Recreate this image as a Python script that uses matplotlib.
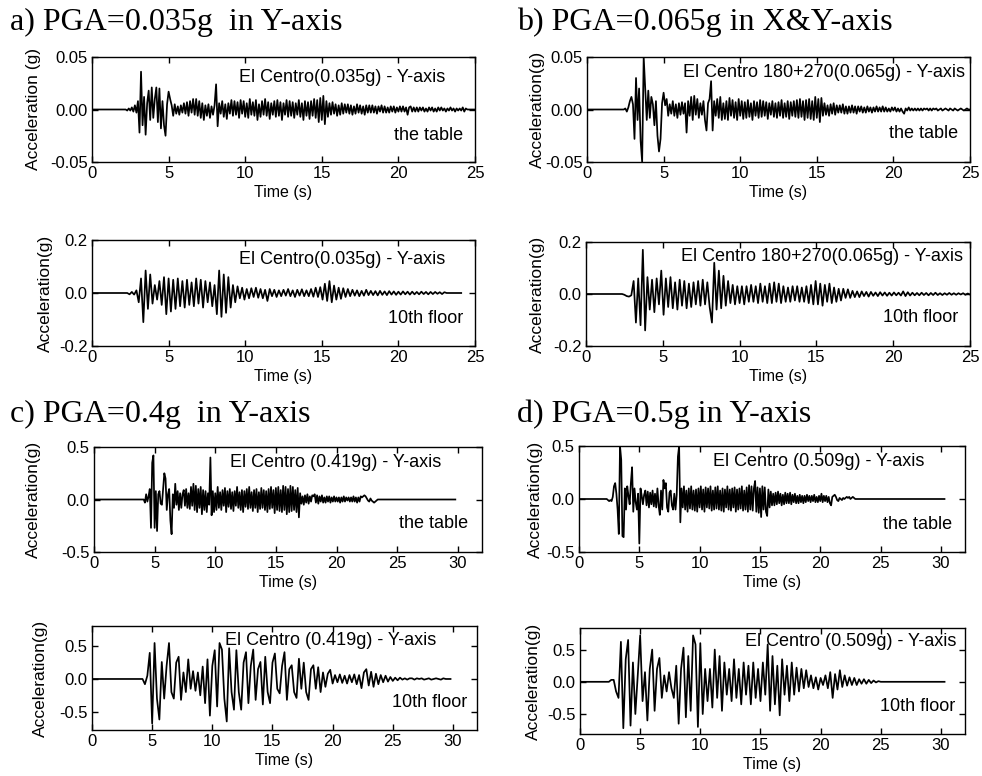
import numpy as np
import matplotlib
matplotlib.use("Agg")
import matplotlib.pyplot as plt

plt.rcParams["font.family"] = ["Liberation Sans", "DejaVu Sans"]

# ---------------- data ----------------
# a) table, units 0.001 g, sampled every 0.1 s from 2.2 s
a_tab_t0, a_tab_dt, a_tab_end = 2.2, 0.1, 25.0
a_tab_vals = [
    0, -1, 1, -1, 2, -2, 4, -3, 8, -22,
    36, -15, 12, -24, 6, 18, -10, 21, -8, 10,
    21, -12, 20, -18, 8, -15, -25, 5, 17, 10,
    4, -6, 5, -4, 3, -5, 4, -3, 6, -4,
    7, -6, 8, -3, 10, -5, 10, -6, 8, -8,
    6, -10, 4, -6, 5, -8, 3, -5, 4, 24,
    -16, 6, -4, 8, -7, 5, -9, 6, -4, 9,
    -6, 8, -5, 7, -8, 9, -4, 8, -7, 6,
    -8, 10, -5, 7, -6, 9, -10, 5, -7, 8,
    -5, 10, -6, 7, -9, 6, -5, 8, -7, 9,
    -6, 7, -10, 6, -5, 9, -7, 8, -6, 7,
    -8, 6, -5, 9, -7, 6, -10, 8, -6, 7,
    -9, 8, -6, 10, -8, 9, -12, 11, -10, 13,
    -14, 8, -7, 6, -5, 7, -4, 5, -6, 4,
    -5, 6, -4, 5, -3, 5, -4, 4, -5, 3,
    -4, 5, -3, 4, -4, 3, -5, 4, -3, 4,
    -3, 4, -3, 3, -4, 3, -2, 4, -3, 3,
    -3, 2, -3, 3, -2, 3, -3, 2, -2, 3,
    -2, 3, -2, 2, -5, 2, 3, -2, 2, -2,
    2, -2, 2, -1, 2, -2, 1, -2, 2, -1,
    2, -2, 1, -2, 2, -1, 2, -1, 1, -2,
    1, -1, 2, -1, 1, -2, 1, -1, 1, -1,
    2, -2, 1, 0,
]
# a) 10th floor, units 0.001 g, every 0.15 s from 2.3 s
a_flr_t0, a_flr_dt, a_flr_end = 2.3, 0.15, 24.1
a_flr_vals = [
    0, -5, 4, -6, 10, -35, 55, -110, 85, -60,
    70, -40, 30, -25, 45, -45, 60, -80, 55, -70,
    50, -60, 55, -50, 45, -55, 50, -45, 40, -50,
    55, -40, 50, -55, 45, -35, 40, -50, 30, -80,
    85, -90, 70, -75, 60, -55, 30, -35, 25, -20,
    20, -25, 15, -20, 18, -15, 20, -18, 15, -20,
    12, -30, 15, -12, 12, -15, 10, -12, 12, -10,
    15, -12, 10, -15, 12, -10, 14, -12, 10, -12,
    15, -14, 20, -15, 22, -25, 35, -30, 45, -35,
    28, -25, 20, -22, 18, -15, 15, -12, 12, -10,
    10, -12, 8, -10, 12, -8, 8, -8, 7, -9,
    8, -7, 6, -8, 7, -6, 6, -7, 5, -6,
    6, -5, 5, -6, 5, -5, 4, -5, 5, -4,
    4, -5, 4, -4, 4, -3, 3, -4, 3, 0,
]
# b) table, units 0.001 g, every 0.1 s from 2.5 s
b_tab_t0, b_tab_dt, b_tab_end = 2.5, 0.1, 25.0
b_tab_vals = [
    1, -2, 2, 8, 12, 5, -28, 30, -10, 20,
    -30, -50, 50, 20, -10, 18, -8, 12, 5, -15,
    8, -25, -40, -28, 6, 16, 4, 10, -6, 5,
    -4, 8, -6, 5, -8, 6, -5, 7, -4, 6,
    -22, 8, -6, 12, -10, 13, -5, 10, -8, 6,
    -5, 8, -10, -20, 6, 10, 27, -20, 8, -6,
    10, -8, 12, -10, 6, -9, 8, -10, 11, -6,
    9, -8, 7, -10, 10, -6, 8, -9, 7, -8,
    9, -7, 6, -10, 8, -6, 7, -8, 9, -7,
    8, -6, 7, -9, 6, -5, 8, -7, 6, -8,
    7, -6, 9, -8, 6, -7, 8, -9, 7, -6,
    8, -7, 9, -8, 10, -7, 8, -10, 9, -8,
    10, -9, 8, -10, 12, -8, 10, -12, 11, -6,
    6, -5, 4, -6, 5, -4, 6, -5, 4, -3,
    4, -3, 5, -4, 3, -4, 3, -3, 4, -3,
    3, -4, 3, -2, 3, -3, 2, -3, 3, -2,
    2, -3, 2, -2, 3, -2, 2, -2, 3, -2,
    2, -2, 1, -2, 2, -1, 2, -2, 1, -2,
    1, -2, -4, 1, -1, 2, -1, 1, -1, 1,
    -1, 1, -1, 1, -1, 1, 0, 1, -1, 1,
    -1, 1, 0, 1, -1, 0, 1, -1, 0, 1,
    0, -1, 1, 0, -1, 1, 0, -1, 0, 1,
    0, -1, 0, 1, 0, 0,
]
# b) 10th floor, units 0.001 g, every 0.15 s from 2.5 s
b_flr_t0, b_flr_dt, b_flr_end = 2.5, 0.15, 25.0
b_flr_vals = [
    -3, -8, -10, -5, 50, -110, 60, -120, 170, -140,
    65, -60, 55, -70, 60, -40, 90, -80, 60, -50,
    65, -55, 45, -60, 55, -45, 50, -55, 40, -50,
    45, -40, 50, -45, 55, -40, 45, -50, -110, 120,
    -60, 90, -55, 70, -45, 50, -35, 35, -40, 30,
    -35, 30, -40, 30, -30, 35, -30, 30, -35, 40,
    -30, 30, -35, 40, -35, 45, -30, 40, -35, 30,
    -30, 25, -30, 30, -25, 30, -30, 25, -30, 30,
    -35, 35, -40, 50, -40, 40, -45, 35, -30, 40,
    -35, 25, -30, 20, -25, 20, -15, 18, -15, 12,
    -12, 10, -12, 10, -8, 8, -10, 8, -7, 6,
    -8, 7, -6, 6, -7, 5, -6, 6, -5, 5,
    -6, 10, -8, 7, -6, 5, -5, 4, -5, 5,
    -4, 4, -5, 4, -4, 5, -4, 3, -4, 3,
    -3, 4, -3, 3, -3, 3, -2, 3, -3, 2,
    -2,
]
# c) table, units 0.01 g, every 0.1 s from 4.2 s
c_tab_t0, c_tab_dt, c_tab_end = 4.2, 0.1, 29.8
c_tab_vals = [
    -3, 5, -2, 3, 10, -27, 35, 42, -27, 8,
    -30, 5, 8, -4, -5, 10, 25, 20, -10, 5,
    10, -20, -33, 5, -8, 15, -5, 8, -10, 6,
    -8, 5, 9, -6, 10, -8, 6, -9, 12, -6,
    15, -10, 13, -12, 10, -8, 12, -14, 9, -10,
    8, -12, 6, -5, 40, -15, 8, -12, 6, -10,
    12, -8, 7, -10, 9, -6, 11, -12, 8, -7,
    10, -9, 7, -11, 8, -6, 12, -8, 7, -10,
    9, -12, 8, -7, 10, -9, 12, -8, 7, -11,
    9, -8, 10, -12, 7, -9, 11, -8, 9, -10,
    8, -12, 10, -9, 12, -8, 9, -13, 11, -10,
    12, -11, 9, -12, 13, -10, 12, -14, 10, -12,
    13, -11, 12, -10, 9, -12, 11, -17, 6, -4,
    3, -5, 4, -3, 5, -4, 3, -2, 4, 3,
    5, -3, 4, -4, 3, -2, 4, -3, 2, -3,
    3, -2, 3, -3, 2, -2, 3, -2, 2, -2,
    2, -3, 2, -2, 3, -2, 2, -1, 2, -2,
    2, -2, 3, -2, 2, -3, 2, -2, 3, 2,
    3, 4, 3, 1, -1, -2, 1, -1, -2, -3,
    -2, -1, 0, 0, 0,
]
# c) 10th floor, units 0.01 g, every 0.2 s from 4.2 s
c_flr_t0, c_flr_dt, c_flr_end = 4.2, 0.2, 29.8
c_flr_vals = [
    0, -8, 5, 40, -68, 55, -30, -62, 26, -30,
    20, 55, -20, -30, 25, 34, -32, 10, -20, 30,
    -15, 12, -18, 10, -25, 19, -37, 30, -56, 20,
    44, -42, 55, 45, -30, -65, 47, -20, -47, 44,
    -20, -47, 25, 41, -37, 20, 45, -32, 15, 26,
    -39, 34, -20, -37, 25, 39, -15, -22, 20, 41,
    -32, 15, 21, -20, -29, 31, -15, 25, -20, -32,
    15, 21, -15, 18, -20, 10, -12, 8, 14, -7,
    6, -5, 7, -6, 5, -7, 6, -5, 7, -8,
    6, -14, 10, 15, -10, 11, -12, 8, -8, 6,
    -5, 5, -4, 3, -3, 2, -2, 2, -1, 1,
    -1, 1, 1, -1, 1, 0, 1, -1, 0, 1,
    -1, 0, 1, 0, -1, 1, 0, 0, 0,
]
# d) table, units 0.01 g, every 0.1 s from 2.3 s
d_tab_t0, d_tab_dt, d_tab_end = 2.3, 0.1, 30.3
d_tab_vals = [
    0, -1, -2, -1, -2, 2, 12, 15, 5, -10,
    -33, 50, 37, -35, -36, 10, -10, 12, 3, -5,
    15, 30, -12, 10, -3, -10, 5, -42, 10, 3,
    -5, 4, 8, -6, 7, -8, 6, -5, 8, -7,
    5, -8, 10, -6, -15, 8, -10, 18, 10, 15,
    -8, -12, 6, 8, -6, -10, 5, -10, 4, 40,
    50, -22, 10, -8, 12, -10, 8, -12, 10, -9,
    12, -10, 8, -11, 9, -12, 10, -8, 12, -10,
    9, -12, 11, -8, 10, -9, 12, -11, 8, -10,
    11, -9, 12, -10, 8, -11, 10, -12, 9, -8,
    12, -10, 9, -11, 10, -8, 11, -12, 9, -10,
    10, -9, 12, -11, 8, -10, 11, -12, 13, -10,
    12, -11, 10, 17, -12, 11, -13, 10, -17, 12,
    -10, 11, -12, -16, 9, -8, 7, -6, 5, -6,
    6, -5, 7, -4, 5, -6, 4, -5, 6, -4,
    5, -4, 6, -5, 4, -3, 5, -4, 3, -4,
    4, -3, 3, -4, 3, -3, 4, -2, 3, -3,
    3, -2, 4, -3, 2, -3, 3, -2, 5, -3,
    3, -2, 3, -3, 2, -4, -6, 2, 3, 4,
    2, -1, -2, 1, 0, -1, 1, 0, 1, 2,
    1, 2, 0, 1, 2, 1, 0, 0,
]
# d) 10th floor, units 0.01 g, every 0.2 s from 2.6 s
d_flr_t0, d_flr_dt, d_flr_end = 2.6, 0.2, 30.3
d_flr_vals = [
    3, 3, -15, -25, 62, -72, 35, 65, -68, 30,
    -50, 10, 72, -30, 15, -60, 20, 50, -45, 20,
    37, -25, 10, -15, 15, -10, -25, 25, -65, 20,
    53, -55, 40, -45, 72, 58, -70, 60, -50, 20,
    -30, 20, -40, 50, -25, 40, -45, 30, -20, 20,
    -30, 35, -25, 20, -35, 30, -20, 25, -35, 30,
    -25, 20, -30, 30, -20, 58, -45, 40, -35, 25,
    -52, 35, -20, 25, -30, 30, -20, 22, -15, 20,
    -10, 18, -8, 10, -10, 7, -12, 6, -5, 10,
    -10, 15, -25, 12, -12, 18, -8, 10, -6, 7,
    -5, 6, -5, 4, -3, 4, -3, 3, -2, 2,
    -1, 1, 0,
]

panel_titles = ["a) PGA=0.035g  in Y-axis", "b) PGA=0.065g in X&Y-axis",
                "c) PGA=0.4g  in Y-axis", "d) PGA=0.5g in Y-axis"]
record_labels = ["El Centro(0.035g) - Y-axis", "El Centro 180+270(0.065g) - Y-axis",
                 "El Centro (0.419g) - Y-axis", "El Centro (0.509g) - Y-axis"]
location_labels = ["the table", "10th floor"]

# ---------------- figure ----------------
fig = plt.figure(figsize=(9.82, 7.76), dpi=100)
W, H = 982.0, 776.0


def ax_at(l, r, t, b):
    return fig.add_axes([l / W, 1 - b / H, (r - l) / W, (b - t) / H])


def series(t0, dt, vals, unit, end):
    v = np.asarray(vals, float) * unit
    t = t0 + dt * np.arange(len(v))
    tt = np.concatenate([[0.0, t0 - dt], t])
    vv = np.concatenate([[0.0, 0.0], v])
    if end > tt[-1]:
        tt = np.append(tt, end)
        vv = np.append(vv, 0.0)
    return tt, vv


panels = [
    ((92, 475, 57, 162), (a_tab_t0, a_tab_dt, a_tab_vals, 0.001, a_tab_end), 25, [-0.05, 0.05], [-0.05, 0.0, 0.05], "%.2f",
     "Acceleration (g)", -0.133, (0.922, 0.80), (0.969, 0.257), 0, 0),
    ((92, 475, 240, 346), (a_flr_t0, a_flr_dt, a_flr_vals, 0.001, a_flr_end), 25, [-0.2, 0.2], [-0.2, 0.0, 0.2], "%.1f",
     "Acceleration(g)", -0.102, (0.922, 0.82), (0.969, 0.255), 0, 1),
    ((587, 970, 57, 162), (b_tab_t0, b_tab_dt, b_tab_vals, 0.001, b_tab_end), 25, [-0.05, 0.05], [-0.05, 0.0, 0.05], "%.2f",
     "Acceleration(g)", -0.110, (0.987, 0.857), (0.969, 0.276), 1, 0),
    ((586, 970, 242, 346), (b_flr_t0, b_flr_dt, b_flr_vals, 0.001, b_flr_end), 25, [-0.2, 0.2], [-0.2, 0.0, 0.2], "%.1f",
     "Acceleration(g)", -0.107, (0.982, 0.865), (0.969, 0.27), 1, 1),
    ((94, 482, 447, 552), (c_tab_t0, c_tab_dt, c_tab_vals, 0.01, c_tab_end), 32, [-0.5, 0.5], [-0.5, 0.0, 0.5], "%.1f",
     "Acceleration(g)", -0.137, (0.894, 0.857), (0.964, 0.267), 2, 0),
    ((92, 477, 626, 730), (c_flr_t0, c_flr_dt, c_flr_vals, 0.01, c_flr_end), 32, [-0.78, 0.81], [-0.5, 0.0, 0.5], "%.1f",
     "Acceleration(g)", -0.114, (0.894, 0.856), (0.974, 0.26), 2, 1),
    ((579, 965, 446, 552), (d_tab_t0, d_tab_dt, d_tab_vals, 0.01, d_tab_end), 32, [-0.5, 0.5], [-0.5, 0.0, 0.5], "%.1f",
     "Acceleration(g)", -0.093, (0.896, 0.858), (0.966, 0.264), 3, 0),
    ((580, 965, 628, 734), (d_flr_t0, d_flr_dt, d_flr_vals, 0.01, d_flr_end), 32, [-0.81, 0.835], [-0.5, 0.0, 0.5], "%.1f",
     "Acceleration(g)", -0.101, (0.978, 0.877), (0.974, 0.255), 3, 1),
]

for box, sargs, xmax, ylim, yticks, fmt, ylab, ylx, rpos, lpos, ri, li in panels:
    ax = ax_at(*box)
    t, v = series(*sargs)
    ax.plot(t, v, color="black", lw=1.25)
    ax.set_xlim(0, xmax)
    ax.set_ylim(*ylim)
    ax.set_xticks(list(range(0, 31 if xmax > 25 else 26, 5)))
    ax.set_yticks(yticks)
    ax.set_yticklabels([fmt % y for y in yticks])
    ax.tick_params(direction="in", top=True, right=True, length=4, width=1,
                   labelsize=12, pad=3, colors="black")
    for s in ax.spines.values():
        s.set_linewidth(1.0)
    ax.set_xlabel("Time (s)", fontsize=11.5, labelpad=3)
    ax.set_ylabel(ylab, fontsize=12.5)
    ax.yaxis.set_label_coords(ylx, 0.5)
    ax.text(rpos[0], rpos[1], record_labels[ri], transform=ax.transAxes,
            ha="right", va="center", fontsize=13)
    ax.text(lpos[0], lpos[1], location_labels[li], transform=ax.transAxes,
            ha="right", va="center", fontsize=13)

title_pos = [(10, 30), (517, 30), (10, 422), (517, 422)]
for (x, y), txt in zip(title_pos, panel_titles):
    fig.text(x / W, 1 - y / H, txt, family=["Liberation Serif", "DejaVu Serif"],
             fontsize=23, ha="left", va="baseline")

fig.savefig("out.png", dpi=100)
